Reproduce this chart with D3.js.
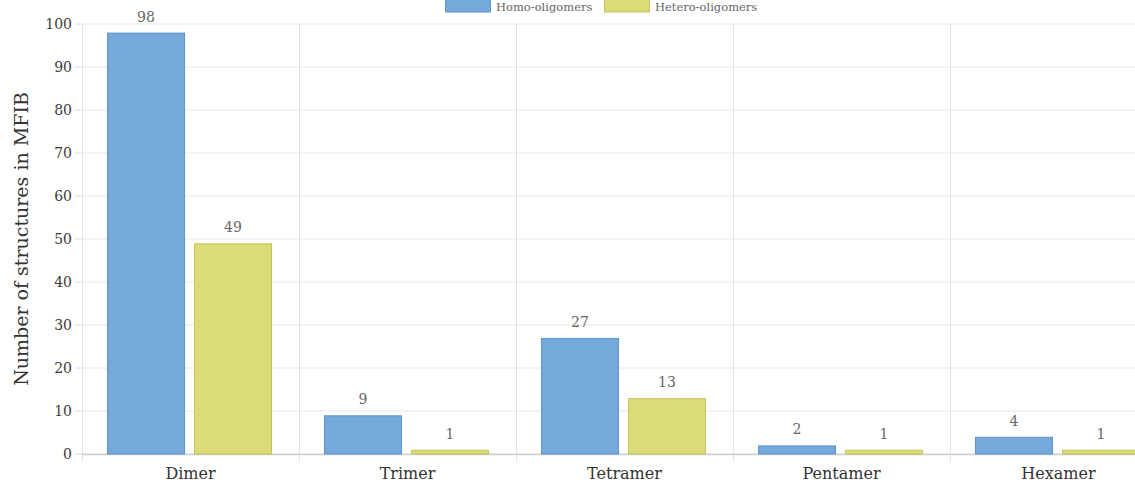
<!DOCTYPE html>
<html><head><meta charset="utf-8">
<script src="https://cdn.jsdelivr.net/npm/d3@7"></script>
<style>
html,body{margin:0;padding:0;background:#fff;overflow:hidden;}
svg{display:block;font-family:"DejaVu Serif","Liberation Serif",serif;}
</style></head>
<body>
<svg id="chart" width="1135" height="483"></svg>
<script>
// Oligomeric states and structure counts
const categories = ["Dimer", "Trimer", "Tetramer", "Pentamer", "Hexamer"];
const seriesNames = ["Homo-oligomers", "Hetero-oligomers"];
const homoValues = [98, 9, 27, 2, 4];
const heteroValues = [49, 1, 13, 1, 1];
const yTicks = [0, 10, 20, 30, 40, 50, 60, 70, 80, 90, 100];

const fills = ["#75a8db", "#dbdc78"];
const strokes = ["#5f93c9", "#c3c45c"];

const svg = d3.select("#chart");
const plotLeft = 82, plotTop = 24, plotBottom = 454;
const step = 217;
const plotRight = plotLeft + step * categories.length;

const x = d3.scaleBand().domain(categories).range([plotLeft, plotRight]).paddingInner(0).paddingOuter(0);
const x1 = d3.scaleBand().domain(seriesNames).range([25, 190]).paddingInner(0.103);
const y = d3.scaleLinear().domain([0, 100]).range([plotBottom, plotTop]);

// horizontal grid
svg.append("g").selectAll("line").data(yTicks).join("line")
  .attr("x1", plotLeft).attr("x2", plotRight)
  .attr("y1", d => y(d)).attr("y2", d => y(d))
  .attr("stroke", "#e6e6e6").attr("stroke-width", 1);

// vertical separators between categories
const bounds = d3.range(categories.length + 1).map(i => plotLeft + i * step);
svg.append("g").selectAll("line").data(bounds).join("line")
  .attr("x1", d => d + 0.5).attr("x2", d => d + 0.5)
  .attr("y1", plotTop).attr("y2", plotBottom + 8)
  .attr("stroke", "#e3e3e3").attr("stroke-width", 1);

// y axis ticks and labels
const yAxis = svg.append("g");
yAxis.selectAll("line").data(yTicks).join("line")
  .attr("x1", plotLeft - 7).attr("x2", plotLeft)
  .attr("y1", d => y(d)).attr("y2", d => y(d))
  .attr("stroke", "#d8d8d8");
yAxis.selectAll("text").data(yTicks).join("text")
  .attr("x", plotLeft - 10).attr("y", d => y(d))
  .attr("dy", "0.35em").attr("text-anchor", "end")
  .attr("font-size", 14).attr("fill", "#3a3a3a")
  .text(d => d);

// x axis baseline
svg.append("line").attr("x1", plotLeft).attr("x2", plotRight)
  .attr("y1", plotBottom + 0.5).attr("y2", plotBottom + 0.5)
  .attr("stroke", "#cfcfcf").attr("stroke-width", 1.5);

// bars
const rows = categories.map((c, i) => ({cat: c, vals: [homoValues[i], heteroValues[i]]}));
const groups = svg.append("g").selectAll("g").data(rows).join("g")
  .attr("transform", d => `translate(${x(d.cat)},0)`);
groups.selectAll("rect").data(d => d.vals.map((v, j) => ({v, j}))).join("rect")
  .attr("x", d => x1(seriesNames[d.j]) + 0.5)
  .attr("width", x1.bandwidth() - 1)
  .attr("y", d => y(d.v) + 0.5)
  .attr("height", d => Math.max(0, plotBottom - y(d.v) - 0.5))
  .attr("fill", d => fills[d.j])
  .attr("stroke", d => strokes[d.j]).attr("stroke-width", 1);
groups.selectAll("text").data(d => d.vals.map((v, j) => ({v, j}))).join("text")
  .attr("x", d => x1(seriesNames[d.j]) + x1.bandwidth() / 2)
  .attr("y", d => y(d.v) - 11)
  .attr("text-anchor", "middle")
  .attr("font-size", 14).attr("fill", "#666")
  .text(d => d.v);

// category labels
svg.append("g").selectAll("text").data(categories).join("text")
  .attr("x", d => x(d) + step / 2).attr("y", plotBottom + 25)
  .attr("text-anchor", "middle")
  .attr("font-size", 16).attr("fill", "#333")
  .text(d => d);

// y axis title
svg.append("text")
  .attr("transform", `translate(28,${(plotTop + plotBottom) / 2}) rotate(-90)`)
  .attr("text-anchor", "middle")
  .attr("font-size", 19).attr("fill", "#333")
  .text("Number of structures in MFIB");

// legend
const legendX = [445, 604];
const legend = svg.append("g").selectAll("g").data(seriesNames).join("g")
  .attr("transform", (d, i) => `translate(${legendX[i]},0)`);
legend.append("rect").attr("x", 0.5).attr("y", -4).attr("width", 45).attr("height", 16)
  .attr("fill", (d, i) => fills[i]).attr("stroke", (d, i) => strokes[i]);
legend.append("text").attr("x", 51).attr("y", 10.5)
  .attr("font-size", 11.5).attr("fill", "#666").text(d => d);
</script>
</body></html>
